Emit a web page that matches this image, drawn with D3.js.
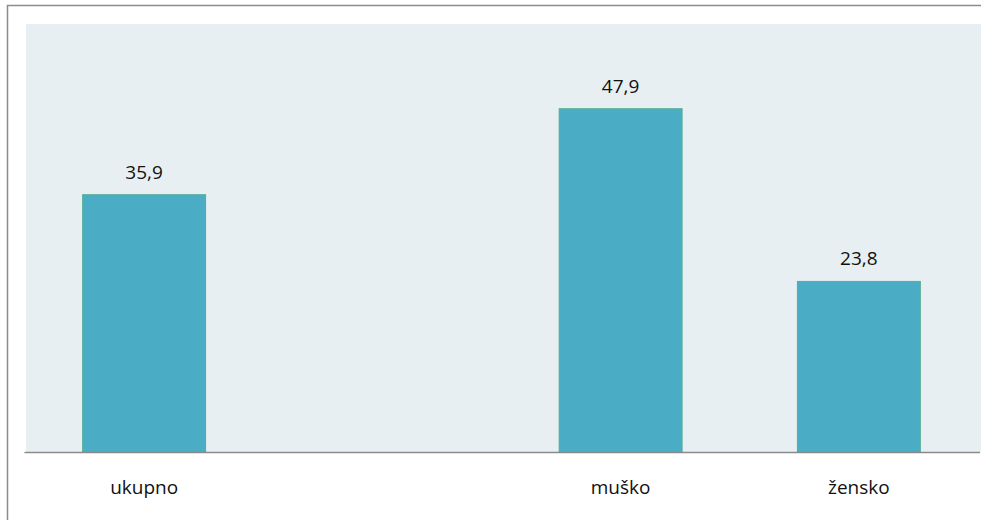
<!DOCTYPE html>
<html>
<head>
<meta charset="utf-8">
<script src="https://cdn.jsdelivr.net/npm/d3@7"></script>
<style>
  body { margin: 0; background: #fff; }
  svg { display: block; }
  .val, .cat { font-family: "Open Sans", sans-serif; fill: #111; }
</style>
</head>
<body>
<script>
// categories (the second slot is an empty gap in the original chart)
var categories = ["ukupno", "", "muško", "žensko"]
var values = [35.9, null, 47.9, 23.8]
var valueLabels = ["35,9", "", "47,9", "23,8"]

var width = 981,
    height = 520,
    plot = {left: 25, right: 978, top: 22, bottom: 452}

var svg = d3.select("body").append("svg")
    .attr("width", width)
    .attr("height", height)

// outer frame, runs off the right and bottom edge
svg.append("rect")
    .attr("x", 7.5).attr("y", 5.5)
    .attr("width", width).attr("height", height)
    .attr("fill", "none")
    .attr("stroke", "#8c8c8c")
    .attr("stroke-width", 1.5)

// plot background
svg.append("rect")
    .attr("x", 26).attr("y", 24)
    .attr("width", width - 26).attr("height", plot.bottom - 24)
    .attr("fill", "#e8eff2")

var x = d3.scaleBand()
    .domain(d3.range(categories.length))
    .range([plot.left, plot.right])
    .padding(0)

var y = d3.scaleLinear()
    .domain([0, 60])
    .range([plot.bottom, plot.top])

var barW = x.bandwidth() * 0.516

var data = categories.map(function(c, i) {
  return {cat: c, value: values[i], label: valueLabels[i], i: i}
})
var bars = data.filter(function(d) { return d.value != null })

svg.append("g").selectAll("rect")
    .data(bars)
    .enter().append("rect")
    .attr("x", function(d) { return x(d.i) + (x.bandwidth() - barW) / 2 })
    .attr("y", function(d) { return y(d.value) })
    .attr("width", barW)
    .attr("height", function(d) { return y(0) - y(d.value) })
    .attr("fill", "#4bacc6")
    .attr("stroke", "#55ad95")
    .attr("stroke-width", 1)

// value labels
svg.append("g").selectAll("text")
    .data(bars)
    .enter().append("text")
    .attr("class", "val")
    .attr("x", function(d) { return x(d.i) + x.bandwidth() / 2 })
    .attr("y", function(d) { return y(d.value) - 16 })
    .attr("text-anchor", "middle")
    .style("font-size", "19px")
    .text(function(d) { return d.label })

// baseline axis
var axis = svg.append("g")
    .attr("transform", "translate(0," + plot.bottom + ")")
    .call(d3.axisBottom(x).tickSize(0).tickFormat(function(i) { return categories[i] }))
axis.select(".domain")
    .attr("d", "M24.5,0.5H980")
    .attr("stroke", "#8a8a8a")
    .attr("stroke-width", 1.5)
axis.selectAll(".tick text")
    .attr("class", "cat")
    .attr("dy", 0)
    .attr("y", 42)
    .style("font-size", "19px")
    .style("font-family", "'Open Sans', sans-serif")
    .attr("fill", "#111")
</script>
</body>
</html>
